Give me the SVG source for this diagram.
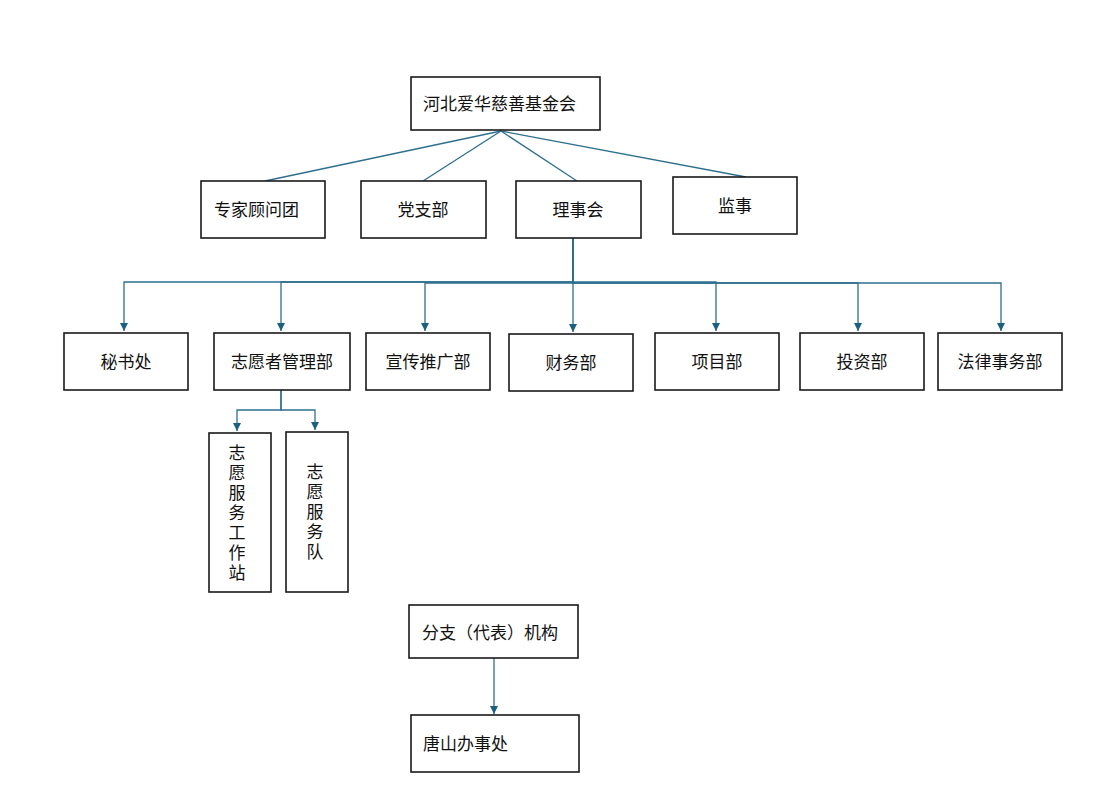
<svg xmlns="http://www.w3.org/2000/svg" width="1104" height="786" viewBox="0 0 1104 786">
<style>
.box{fill:#fff;stroke:#1a1a1a;stroke-width:1.6}
.t{font-family:"Noto Sans CJK SC","Noto Sans",sans-serif;font-size:17px;fill:#111}
.c{text-anchor:middle}
.v{writing-mode:vertical-rl;text-anchor:middle;letter-spacing:3px}
.ln{fill:none;stroke:#2e6f8e;stroke-width:1.3}
</style>
<defs>
<marker id="ah" viewBox="0 0 10 10" refX="10" refY="5" markerWidth="8" markerHeight="8" markerUnits="userSpaceOnUse" orient="auto">
<path d="M0,0 L10,5 L0,10 z" fill="#1d5f80"/>
</marker>
</defs>
<rect width="1104" height="786" fill="#fff"/>
<g id="connectors">
<line class="ln" x1="501" y1="131" x2="265" y2="181"/>
<line class="ln" x1="501" y1="131" x2="423" y2="181"/>
<line class="ln" x1="501" y1="131" x2="577" y2="181"/>
<line class="ln" x1="501" y1="131" x2="746" y2="177"/>
<path class="ln" marker-end="url(#ah)" d="M573,238 V282 H124 V331"/>
<path class="ln" marker-end="url(#ah)" d="M573,238 V282 H281 V331"/>
<path class="ln" marker-end="url(#ah)" d="M573,238 V283 H425 V331"/>
<path class="ln" marker-end="url(#ah)" d="M573,238 V332"/>
<path class="ln" marker-end="url(#ah)" d="M573,238 V282 H716 V331"/>
<path class="ln" marker-end="url(#ah)" d="M573,238 V283 H858 V331"/>
<path class="ln" marker-end="url(#ah)" d="M573,238 V283 H1001 V331"/>
<path class="ln" marker-end="url(#ah)" d="M281,390 V410 H237 V431"/>
<path class="ln" marker-end="url(#ah)" d="M281,390 V410 H315 V430"/>
<path class="ln" marker-end="url(#ah)" d="M494,657 V714"/>
</g>
<g id="n-root"><rect class="box" x="411" y="77" width="189" height="53"/><text class="t" x="423" y="110">河北爱华慈善基金会</text></g>
<g id="n-zjgwt"><rect class="box" x="201" y="181" width="124" height="57"/><text class="t" x="214" y="216">专家顾问团</text></g>
<g id="n-dzb"><rect class="box" x="361" y="181" width="125" height="57"/><text class="t c" x="423" y="216">党支部</text></g>
<g id="n-lsh"><rect class="box" x="516" y="181" width="125" height="57"/><text class="t c" x="578" y="216">理事会</text></g>
<g id="n-js"><rect class="box" x="673" y="177" width="124" height="57"/><text class="t c" x="735" y="212">监事</text></g>
<g id="n-msc"><rect class="box" x="64" y="333" width="124" height="57"/><text class="t c" x="126" y="368">秘书处</text></g>
<g id="n-zyzglb"><rect class="box" x="214" y="333" width="136" height="57"/><text class="t c" x="282" y="368">志愿者管理部</text></g>
<g id="n-xctgb"><rect class="box" x="366" y="333" width="124" height="57"/><text class="t c" x="428" y="368">宣传推广部</text></g>
<g id="n-cwb"><rect class="box" x="509" y="334" width="124" height="57"/><text class="t c" x="571" y="369">财务部</text></g>
<g id="n-xmb"><rect class="box" x="655" y="333" width="124" height="57"/><text class="t c" x="717" y="368">项目部</text></g>
<g id="n-tzb"><rect class="box" x="800" y="333" width="124" height="57"/><text class="t c" x="862" y="368">投资部</text></g>
<g id="n-flswb"><rect class="box" x="938" y="333" width="124" height="57"/><text class="t c" x="1000" y="368">法律事务部</text></g>
<g id="n-zyfwgzz"><rect class="box" x="209" y="433" width="62" height="159"/><text class="t v" x="237" y="514">志愿服务工作站</text></g>
<g id="n-zyfwd"><rect class="box" x="286" y="432" width="62" height="160"/><text class="t v" x="315" y="513">志愿服务队</text></g>
<g id="n-fzjg"><rect class="box" x="409" y="605" width="169" height="53"/><text class="t" x="422" y="639">分支（代表）机构</text></g>
<g id="n-tsbsc"><rect class="box" x="411" y="715" width="168" height="57"/><text class="t" x="423" y="750">唐山办事处</text></g>
</svg>
